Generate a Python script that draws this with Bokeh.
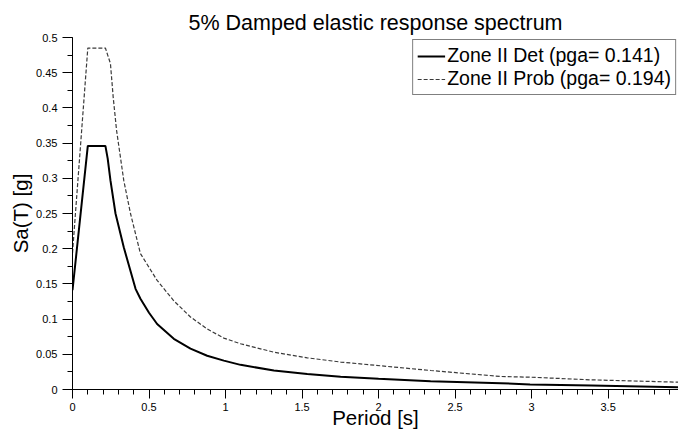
from bokeh.plotting import figure
from bokeh.models import (Range1d, SingleIntervalTicker, Legend, LegendItem,
                          CustomJSTickFormatter)
from bokeh.embed import file_html
from bokeh.resources import INLINE

# ---- data ----
det_period = [0, 0.1, 0.215, 0.23, 0.248, 0.281, 0.335, 0.412, 0.444, 0.5, 0.553,
              0.662, 0.771, 0.88, 0.989, 1.098, 1.316, 1.534, 1.752, 2.0, 2.34,
              2.8, 2.99, 3.39, 3.96]
det_sa = [0.141, 0.346, 0.346, 0.328, 0.297, 0.25, 0.202, 0.143, 0.129, 0.109, 0.093,
          0.072, 0.058, 0.048, 0.041, 0.035, 0.027, 0.022, 0.018, 0.0153, 0.0118,
          0.009, 0.0071, 0.0057, 0.0033]

prob_period = [0, 0.1, 0.215, 0.248, 0.266, 0.288, 0.335, 0.379, 0.444, 0.553, 0.662,
               0.771, 0.88, 0.989, 1.098, 1.316, 1.534, 1.752, 2.34, 2.8, 2.99,
               3.39, 3.96]
prob_sa = [0.194, 0.485, 0.485, 0.463, 0.415, 0.368, 0.297, 0.25, 0.193, 0.155, 0.126,
           0.103, 0.086, 0.073, 0.065, 0.053, 0.045, 0.039, 0.027, 0.0185, 0.0175,
           0.0137, 0.0104]

det_label = "Zone II Det (pga= 0.141)"
prob_label = "Zone II Prob (pga= 0.194)"

x_ticks = [0, 0.5, 1, 1.5, 2, 2.5, 3, 3.5]
x_tick_labels = ["0", "0.5", "1", "1.5", "2", "2.5", "3", "3.5"]
y_ticks = [0, 0.05, 0.1, 0.15, 0.2, 0.25, 0.3, 0.35, 0.4, 0.45, 0.5]
y_tick_labels = ["0", "0.05", "0.1", "0.15", "0.2", "0.25", "0.3", "0.35", "0.4", "0.45", "0.5"]

FONT = "Liberation Sans"

p = figure(width=678, height=437, output_backend="svg", toolbar_location=None,
           x_range=Range1d(0, 3.96), y_range=Range1d(0, 0.5),
           min_border_left=72, min_border_right=0, min_border_top=37,
           min_border_bottom=48,
           title="5% Damped elastic response spectrum")
p.title.align = "center"
p.title.text_font = FONT
p.title.text_font_size = "21.5px"
p.title.text_font_style = "normal"
p.title.text_color = "black"
p.title.standoff = 6

p.outline_line_color = None
p.xgrid.visible = False
p.ygrid.visible = False

r1 = p.line(det_period, det_sa, line_color="black", line_width=2)
r2 = p.line(prob_period, prob_sa, line_color="#3a3a3a", line_width=1.2, line_dash="4 2")

label_code = """
let best = 0, bd = Infinity;
for (let i = 0; i < vals.length; i++) {
  const d = Math.abs(vals[i] - tick);
  if (d < bd) { bd = d; best = i; }
}
return labs[best];
"""
p.xaxis.ticker = SingleIntervalTicker(interval=0.5, num_minor_ticks=5)
p.yaxis.ticker = SingleIntervalTicker(interval=0.05, num_minor_ticks=2)
p.xaxis.formatter = CustomJSTickFormatter(args=dict(vals=x_ticks, labs=x_tick_labels), code=label_code)
p.yaxis.formatter = CustomJSTickFormatter(args=dict(vals=y_ticks, labs=y_tick_labels), code=label_code)

for ax in (p.xaxis, p.yaxis):
    ax.axis_line_color = "black"
    ax.axis_line_width = 1
    ax.major_tick_line_color = "#000000"
    ax.major_tick_line_width = 1
    ax.minor_tick_line_color = "#000000"
    ax.minor_tick_line_width = 1
    ax.major_tick_in = 0
    ax.minor_tick_in = 0
    ax.minor_tick_out = 5
    ax.major_label_text_font = FONT
    ax.major_label_text_font_size = "11px"
    ax.major_label_text_color = "black"
    ax.axis_label_text_font = FONT
    ax.axis_label_text_font_size = "20.5px"
    ax.axis_label_text_font_style = "normal"
    ax.axis_label_text_color = "black"

p.xaxis.major_tick_out = 9
p.yaxis.major_tick_out = 10
p.xaxis.major_label_standoff = 4
p.yaxis.major_label_standoff = 5
p.xaxis.axis_label = "Period [s]"
p.yaxis.axis_label = "Sa(T) [g]"
p.xaxis.axis_label_standoff = -8
p.yaxis.axis_label_standoff = 1

legend = Legend(items=[LegendItem(label=det_label, renderers=[r1]),
                       LegendItem(label=prob_label, renderers=[r2])],
                location="top_right")
legend.margin = 2
legend.padding = 4
legend.spacing = 0
legend.glyph_width = 28
legend.glyph_height = 22
legend.label_height = 22
legend.label_standoff = 2
legend.label_text_font = FONT
legend.label_text_font_size = "19.5px"
legend.label_text_color = "black"
legend.border_line_color = "black"
legend.border_line_width = 1
legend.background_fill_color = "white"
legend.background_fill_alpha = 1
p.add_layout(legend)

open("out.html", "w").write(file_html(p, INLINE))
